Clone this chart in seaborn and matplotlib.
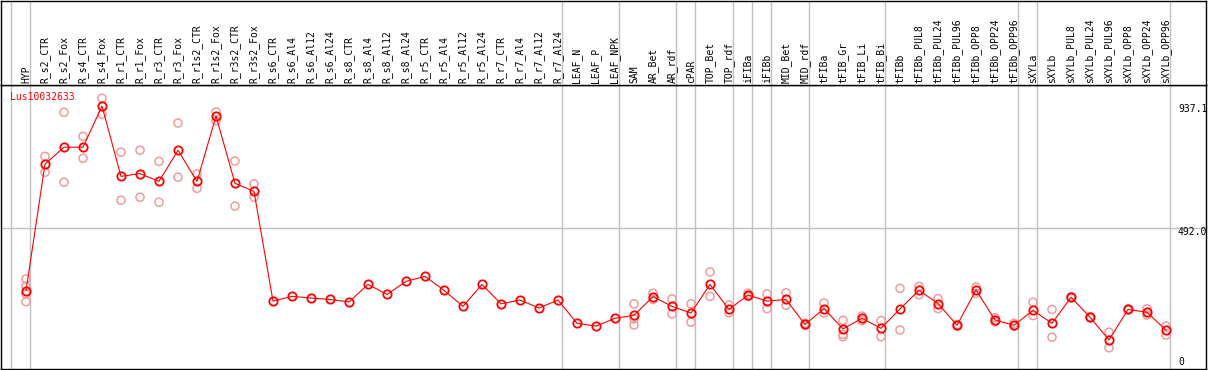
import matplotlib
matplotlib.use("Agg")
import matplotlib.pyplot as plt
import matplotlib.transforms as mtransforms
import numpy as np
import pandas as pd
import seaborn as sns

categories = ["HYP", "R_s2_CTR", "R_s2_Fox", "R_s4_CTR", "R_s4_Fox", "R_r1_CTR", "R_r1_Fox",
              "R_r3_CTR", "R_r3_Fox", "R_r1s2_CTR", "R_r1s2_Fox", "R_r3s2_CTR", "R_r3s2_Fox",
              "R_s6_CTR", "R_s6_Al4", "R_s6_Al12", "R_s6_Al24", "R_s8_CTR", "R_s8_Al4", "R_s8_Al12",
              "R_s8_Al24", "R_r5_CTR", "R_r5_Al4", "R_r5_Al12", "R_r5_Al24", "R_r7_CTR", "R_r7_Al4",
              "R_r7_Al12", "R_r7_Al24", "LEAF_N", "LEAF_P", "LEAF_NPK", "SAM", "AR_Bet", "AR_rdf",
              "cPAR", "TOP_Bet", "TOP_rdf", "iFIBa", "iFIBb", "MID_Bet", "MID_rdf", "tFIBa",
              "tFIB_Gr", "tFIB_Li", "tFIB_Bi", "tFIBb", "tFIBb_PUL8", "tFIBb_PUL24", "tFIBb_PUL96",
              "tFIBb_OPP8", "tFIBb_OPP24", "tFIBb_OPP96", "sXYLa", "sXYLb", "sXYLb_PUL8",
              "sXYLb_PUL24", "sXYLb_PUL96", "sXYLb_OPP8", "sXYLb_OPP24", "sXYLb_OPP96"]

means = [267, 723, 784, 784, 932, 679, 689, 661, 773, 661, 896, 654, 625,
         230, 247, 241, 236, 227, 290, 254, 301, 319, 269, 211, 290, 220, 234, 205, 234,
         150, 140, 168, 179, 246, 211, 187, 290, 200, 252, 230, 236, 146, 203,
         130, 168, 132, 202, 269, 221, 143, 270, 162, 143, 197, 150, 244, 172, 90, 200, 190, 125]

replicates = [[310, 284, 256, 228], [751, 694], [910, 658], [823, 744], [960, 902],
              [766, 593], [773, 604], [733, 586], [871, 676], [688, 636], [911, 879],
              [734, 572], [652, 604],
              [], [], [], [], [], [], [], [], [], [], [], [], [], [], [], [], [], [], [],
              [220, 166, 144], [258, 236], [238, 184], [220, 154], [335, 247], [216, 188],
              [258, 246], [256, 203], [260, 215], [150, 143], [223, 187], [161, 110, 102],
              [176, 160], [160, 102], [276, 126], [283, 253], [239, 203], [146, 140],
              [281, 258], [170, 155], [150, 140], [226, 178], [200, 100], [246, 242],
              [174, 170], [118, 62], [202, 198], [202, 180], [140, 108]]

group_sizes = [1, 28, 3, 3, 1, 2, 1, 1, 2, 4, 7, 1, 7]
gene_id = "Lus10032633"
ref_values = [937.1, 492.0, 0]
ref_labels = ["937.1", "492.0", "0"]

sns.set_style("white")
plt.rcParams["font.family"] = ["DejaVu Sans Mono", "DejaVu Sans"]

W, H = 1209, 370
fig = plt.figure(figsize=(W / 100, H / 100), dpi=100)

# pixel geometry
left_px, right_px = 1, 1206
head_bottom_px, plot_bottom_px = 85, 369
x0_px, dx_px = 26, 19
y0_px, scale = 365, 0.2778  # pixel of value 0, pixels per unit

ax = fig.add_axes([left_px / W, (H - plot_bottom_px) / H,
                   (right_px - left_px) / W, (plot_bottom_px - head_bottom_px) / H])
hax = fig.add_axes([left_px / W, (H - head_bottom_px) / H,
                    (right_px - left_px) / W, (head_bottom_px - 0.5) / H])

xlim = ((left_px - x0_px) / dx_px, (right_px - x0_px) / dx_px)
ylim = ((y0_px - plot_bottom_px) / scale, (y0_px - head_bottom_px) / scale)
for a in (ax, hax):
    a.set_xlim(*xlim)
    a.set_xticks([])
    a.set_yticks([])
    for s in a.spines.values():
        s.set_color("black")
        s.set_linewidth(1.0)
ax.set_ylim(*ylim)
hax.set_ylim(0, 1)

pos = np.arange(len(categories))
grid_col = "#c0c0c0"

# group separators
ends = np.cumsum(group_sizes) - 1
sep_positions = [(11 - x0_px) / dx_px] + [e + 0.23 for e in ends]
for a in (ax, hax):
    for sp in sep_positions:
        a.axvline(sp, color=grid_col, lw=1.0, zorder=0)
ax.axhline(ref_values[1], color=grid_col, lw=1.0, zorder=0)

# replicates
rx, ry = [], []
for i, reps in enumerate(replicates):
    for v in reps:
        rx.append(i)
        ry.append(v)
rep_df = pd.DataFrame({"x": rx, "y": ry})
sns.scatterplot(data=rep_df, x="x", y="y", ax=ax, marker="o", s=34,
                facecolors="none", edgecolor="#f09c9c", linewidth=1.1, zorder=2)

# means
mean_df = pd.DataFrame({"x": pos, "y": means})
sns.lineplot(data=mean_df, x="x", y="y", ax=ax, color="#ff0000", lw=0.8,
             marker="o", markersize=6, markerfacecolor="none",
             markeredgecolor="#ff0000", markeredgewidth=1.3, zorder=3)
ax.set_xlabel("")
ax.set_ylabel("")
ax.set_xlim(*xlim)
ax.set_ylim(*ylim)

# header labels
for i, lab in enumerate(categories):
    hax.text(i, 2.5 / 85, lab, rotation=90, ha="center", va="bottom",
             fontsize=7, color="black")

# gene id
ax.text((10 - x0_px) / dx_px, (y0_px - 97) / scale, gene_id, color="#ff0000",
        fontsize=7, ha="left", va="center")

# right value labels
offsets = [-4, -4, 3]
for v, lab, dy in zip(ref_values, ref_labels, offsets):
    tr = mtransforms.offset_copy(ax.transData, fig=fig, x=0, y=dy, units="dots")
    ax.text((1178 - x0_px) / dx_px, v, lab, transform=tr, fontsize=7,
            ha="left", va="center", color="black")

fig.savefig("out.png", dpi=100)
